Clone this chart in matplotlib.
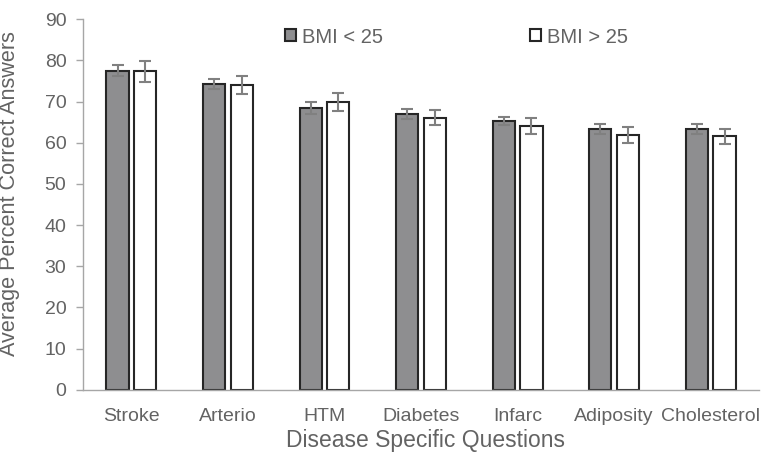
import numpy as np
import matplotlib
matplotlib.use("Agg")
import matplotlib.pyplot as plt

plt.rcParams['font.family'] = ['Liberation Sans', 'DejaVu Sans']

categories = ["Stroke", "Arterio", "HTM", "Diabetes", "Infarc", "Adiposity", "Cholesterol"]
bmi_low = [77.5, 74.3, 68.5, 67.0, 65.3, 63.3, 63.3]
bmi_low_err = [1.4, 1.2, 1.5, 1.2, 1.0, 1.2, 1.25]
bmi_high = [77.3, 74.0, 69.9, 66.1, 64.1, 61.8, 61.6]
bmi_high_err = [2.5, 2.2, 2.2, 1.9, 1.9, 1.9, 1.8]

text_col = "#636363"
x = np.arange(len(categories))
w = 0.23

fig = plt.figure(figsize=(7.69, 4.57), dpi=100)
ax = fig.add_axes([0.108, 0.147, 0.879, 0.811])

err_kw = dict(ecolor="#808080", elinewidth=1.5, capsize=4, capthick=1.5)
ax.bar(x - 0.143, bmi_low, w, color="#8e8e90", edgecolor="#262626", linewidth=1.5,
       yerr=bmi_low_err, error_kw=err_kw, label="BMI < 25")
ax.bar(x + 0.143, bmi_high, w, color="white", edgecolor="#262626", linewidth=1.5,
       yerr=bmi_high_err, error_kw=err_kw, label="BMI > 25")

ax.set_xlim(-0.5, len(categories) - 0.5)
ax.set_ylim(0, 90)
ax.set_yticks(range(0, 91, 10))
ax.set_xticks(x)
ax.set_xticklabels(categories)
ax.tick_params(axis="x", length=0, pad=13, labelsize=14, labelcolor=text_col)
ax.tick_params(axis="y", length=5, width=1, color="#a6a6a6", pad=7, labelsize=14, labelcolor=text_col)

for s in ["top", "right"]:
    ax.spines[s].set_visible(False)
for s in ["left", "bottom"]:
    ax.spines[s].set_color("#a6a6a6")
    ax.spines[s].set_linewidth(1)

ax.set_xlabel("Disease Specific Questions", fontsize=16.5, color=text_col)
ax.set_ylabel("Average Percent Correct Answers", fontsize=15.6, color=text_col)
ax.xaxis.set_label_coords(0.506, -0.105)
ax.yaxis.set_label_coords(-0.093, 0.53)

leg = ax.legend(ncol=2, loc="center left", bbox_to_anchor=(0.37, 0.919),
                bbox_transform=fig.transFigure, frameon=False,
                borderaxespad=0, borderpad=0,
                handlelength=0.55, handleheight=0.55, handletextpad=0.3,
                columnspacing=7.3, fontsize=14.5)
for t in leg.get_texts():
    t.set_color(text_col)

fig.savefig("out.png", dpi=100)
